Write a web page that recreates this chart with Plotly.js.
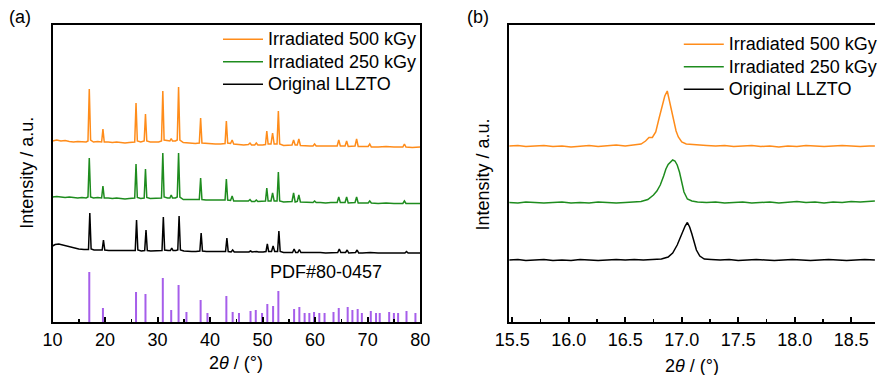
<!DOCTYPE html>
<html><head><meta charset="utf-8">
<script src="https://cdn.plot.ly/plotly-3.0.1.min.js"></script>
<style>html,body{margin:0;padding:0;background:#fff}#plot{width:883px;height:375px}</style>
</head><body><div id="plot"></div>
<script>
// ---------- Panel (a): full XRD patterns (stacked, arbitrary units) ----------
const orangeA_x = [10.0,10.8,11.6,12.4,13.2,14.0,14.8,15.6,16.4,16.75,17.0,17.25,17.8,18.6,19.35,19.6,19.85,20.6,21.4,22.2,23.0,23.8,24.6,25.65,25.9,26.15,26.8,27.45,27.7,27.95,28.6,29.4,30.2,30.75,31.0,31.25,31.9,32.35,32.6,32.85,33.4,33.75,34.0,34.25,34.9,35.6,36.4,37.2,37.95,38.2,38.45,39.2,40.0,41.0,42.0,42.85,43.1,43.35,43.9,44.2,44.5,45.4,46.4,47.3,47.6,47.9,48.5,48.8,49.1,50.0,50.55,50.8,51.05,51.6,51.9,52.2,52.75,53.0,53.25,54.0,55.0,55.6,55.9,56.2,56.6,56.9,57.2,58.0,59.0,59.6,59.9,60.2,61.0,62.0,63.0,64.2,64.5,64.8,65.7,66.0,66.3,67.0,67.6,67.9,68.2,69.0,70.1,70.4,70.7,72.0,73.5,75.0,76.7,77.0,77.3,78.5,80.0];
const orangeA_y = [181,182,181,181.5,180.5,180,180.5,180,180,181,233,182,180,180.5,180,193,180,180,179.5,180,179.5,179,179.5,180,219,181,180,181,208,181,180,180,180,181,231,182,181,181,183.5,181,181,182,235,182,179.5,179,179,178.5,179,204,179,178.5,178,178,178,178.5,201,179,178.5,182,178,177.5,177,177.5,179,177,177,179,177,177,177.5,191,178,178,189,178,178,211,178,176.5,176.5,177,182,177,177,183,176.5,176,176,176,178,176,176,175.5,176,176,182,176,176,181,175.5,175.5,176,183,175.5,175.5,175.5,178,175,175,175.5,175,175,178,175,174.5,175];

const greenA_x = [10.0,10.8,11.6,12.4,13.2,14.0,14.8,15.6,16.4,16.75,17.0,17.25,17.8,18.6,19.35,19.6,19.85,20.6,21.4,22.2,23.0,23.8,24.6,25.65,25.9,26.15,26.8,27.45,27.7,27.95,28.6,29.4,30.2,30.75,31.0,31.25,31.9,32.35,32.6,32.85,33.4,33.75,34.0,34.25,34.9,35.6,36.4,37.2,37.95,38.2,38.45,39.2,40.0,41.0,42.0,42.85,43.1,43.35,43.9,44.2,44.5,45.4,46.4,47.3,47.6,47.9,48.5,48.8,49.1,50.0,50.55,50.8,51.05,51.6,51.9,52.2,52.75,53.0,53.25,54.0,55.0,55.6,55.9,56.2,56.6,56.9,57.2,58.0,59.0,59.6,59.9,60.2,61.0,62.0,63.0,64.2,64.5,64.8,65.7,66.0,66.3,67.0,67.6,67.9,68.2,69.0,70.1,70.4,70.7,72.0,73.5,75.0,76.7,77.0,77.3,78.5,80.0];
const greenA_y = [125,125.5,125,124.5,125,124.5,124,124.5,124,125,164,125,124,124.5,124,136,124,124,123.5,124,123.5,123,123.5,124,158,124.5,123.5,124,153,124.5,123.5,123.5,123.5,124,169,125,124,124,127,124,124,125,169,125,122.5,122.5,122,122,122.5,144,122.5,122,122,121.5,121.5,122,143,122,121.5,126,121,121,120.5,121,122.5,120.5,120.5,122,120.5,120.5,121,134,121,121,129,121,121,150,121,120,120,120.5,129,120,120.5,127,120,120,119.5,119.5,121,119.5,119.5,119,119.5,119.5,125,119.5,119.5,125,119,119,119.5,125,119,119,119,121,119,118.5,119,118.5,118.5,121,118.5,118.5,118.5];

const blackA_x = [10.0,10.5,11.2,12.0,13.0,14.0,15.0,16.0,16.85,17.1,17.35,17.9,18.7,19.45,19.7,19.95,20.7,21.5,22.3,23.1,23.9,24.7,25.75,26.0,26.25,26.9,27.55,27.8,28.05,28.7,29.5,30.3,30.85,31.1,31.35,32.0,32.45,32.7,32.95,33.5,33.85,34.1,34.35,35.0,35.7,36.5,37.3,38.05,38.3,38.55,39.3,40.1,41.0,42.0,42.95,43.2,43.45,44.0,44.3,44.6,45.5,46.5,47.4,47.7,48.0,48.9,49.2,50.1,50.65,50.9,51.15,51.7,52.0,52.3,52.85,53.1,53.35,54.0,55.0,55.7,56.0,56.3,56.7,57.0,57.3,58.0,59.0,60.0,61.0,62.0,63.0,64.3,64.6,64.9,65.8,66.1,66.4,67.7,68.0,68.3,69.0,70.5,72.0,73.5,75.0,77.1,77.4,77.7,78.5,80.0];
const blackA_y = [76,77.5,78,77,75,74,73,72.5,72.5,109,73,72,72,72,82,72,71.5,71.5,71.5,71,71,71,71.5,102,72,71,71.5,92,71.5,71,71,71,71.5,105,72,71.5,71.5,74,71.5,71.5,72,106,72,71,70.5,70.5,70.5,71,89,71,70.5,70.5,70,70,70.5,84,70.5,70,72,70,70,70,70,71,70,70.5,70,70,70.5,78,70.5,70.5,76,70.5,70.5,91,70.5,69.5,69.5,69.5,73,69.5,69.5,72.5,69.5,69.5,69.5,70,69.5,69,69,69.5,73,69.5,69.5,72,69,69.5,72,69,69,69.5,69,69,69,69,70.5,69,69,69];

// Reference pattern PDF#80-0457 (stick positions and heights)
const pdfPos = [17.0,19.6,25.9,27.7,31.0,32.6,34.0,35.5,38.2,39.5,43.1,44.3,45.5,47.7,48.7,49.9,50.9,52.0,53.0,56.0,57.0,58.0,58.9,59.8,60.8,61.8,63.5,64.5,66.2,67.1,68.1,68.9,70.6,71.6,72.3,74.1,75.0,75.8,77.4,79.1];
const pdfInt = [50,14,30,28,44,12,37,10,22,9,26,10,9,11,12,9,18,16,31,13,15,9,9,10,9,9,10,14,15,12,13,9,11,9,9,10,9,9,11,9];

// ---------- Panel (b): zoom on the (211) peak ----------
const orangeB_x = [15.47,15.55,15.62,15.70,15.78,15.86,15.94,16.02,16.10,16.18,16.26,16.34,16.42,16.50,16.58,16.64,16.68,16.71,16.74,16.77,16.80,16.83,16.85,16.872,16.89,16.91,16.93,16.95,16.97,17.00,17.04,17.08,17.14,17.22,17.30,17.38,17.46,17.54,17.62,17.70,17.78,17.86,17.94,18.02,18.10,18.18,18.26,18.34,18.42,18.50,18.58,18.66,18.71];
const orangeB_y = [176,176.5,175.5,176,176.5,175.5,176,175,176,176.5,175.5,176,177,176,177,178,181,184.5,184.5,190,204,218,226,231,222,211,199,191,185,180,178,177.5,177,176.5,176,176.5,175.5,176,176.5,175.5,176,175,176,175.5,176.5,176,175.5,176,176.5,176,175.5,176,176];

const greenB_x = [15.47,15.55,15.62,15.70,15.78,15.86,15.94,16.02,16.10,16.18,16.26,16.34,16.42,16.50,16.58,16.64,16.70,16.75,16.78,16.81,16.84,16.86,16.88,16.90,16.92,16.94,16.96,16.98,17.00,17.02,17.05,17.09,17.14,17.22,17.30,17.38,17.46,17.54,17.62,17.70,17.78,17.86,17.94,18.02,18.10,18.18,18.26,18.34,18.42,18.50,18.58,18.66,18.71];
const greenB_y = [119.5,119,120,119.5,119,119.5,120,119,119.5,119,120,119.5,119,119.5,120,120.5,122.5,127,131,137,146,153,157.5,160,162,161,157,150,141,130,123,121,120,119.5,120,119,119.5,120,119,119.5,120,119,119.5,120.5,119.5,120,119,120,119.5,120.5,120,120.5,121];

const blackB_x = [15.47,15.55,15.62,15.70,15.78,15.86,15.94,16.02,16.10,16.18,16.26,16.34,16.42,16.50,16.58,16.66,16.74,16.82,16.88,16.92,16.96,17.00,17.03,17.05,17.07,17.09,17.11,17.13,17.16,17.20,17.26,17.34,17.42,17.50,17.58,17.66,17.74,17.82,17.90,17.98,18.06,18.14,18.22,18.30,18.38,18.46,18.54,18.62,18.71];
const blackB_y = [62,62.5,61.5,62,62.5,61.5,62,61.5,62.5,62,61.5,62,62.5,62,62.5,62,62.5,63,65,69,77,88,96,99.5,95,88,80,72,66,63,62.5,62,62.5,61.5,62,62.5,62,61.5,62,62.5,62,61.5,62,62.5,62,61.5,62,62.5,62];

const seriesNames = ['Irradiated 500 kGy','Irradiated 250 kGy','Original LLZTO'];
const pdfLabel = 'PDF#80-0457';

// ---------- styles ----------
const C_OR = '#FF8C1A', C_GR = '#1E8C1E', C_BK = '#000000', C_PDF = '#A65EEA';
const FONT = 'Liberation Sans, Arial, sans-serif';

const stickX = [], stickY = [];
pdfPos.forEach((p, i) => { stickX.push(p, p, null); stickY.push(0, pdfInt[i], null); });

// legend label: drawn at 18px while the legend row spacing follows a smaller base size
const lg = s => '<span style="font-size:18px">' + s + '</span>';

const lw = 1.5;
const traces = [
  {x: orangeA_x, y: orangeA_y, type:'scatter', mode:'lines', line:{color:C_OR, width:lw}, name:lg(seriesNames[0]), xaxis:'x', yaxis:'y', legend:'legend'},
  {x: greenA_x, y: greenA_y, type:'scatter', mode:'lines', line:{color:C_GR, width:lw}, name:lg(seriesNames[1]), xaxis:'x', yaxis:'y', legend:'legend'},
  {x: blackA_x, y: blackA_y, type:'scatter', mode:'lines', line:{color:C_BK, width:lw}, name:lg(seriesNames[2]), xaxis:'x', yaxis:'y', legend:'legend'},
  {x: stickX, y: stickY, type:'scatter', mode:'lines', line:{color:C_PDF, width:2}, showlegend:false, xaxis:'x', yaxis:'y', connectgaps:false},
  {x: orangeB_x, y: orangeB_y, type:'scatter', mode:'lines', line:{color:C_OR, width:lw}, name:lg(seriesNames[0]), xaxis:'x2', yaxis:'y2', legend:'legend2'},
  {x: greenB_x, y: greenB_y, type:'scatter', mode:'lines', line:{color:C_GR, width:lw}, name:lg(seriesNames[1]), xaxis:'x2', yaxis:'y2', legend:'legend2'},
  {x: blackB_x, y: blackB_y, type:'scatter', mode:'lines', line:{color:C_BK, width:lw}, name:lg(seriesNames[2]), xaxis:'x2', yaxis:'y2', legend:'legend2'}
];

const xCommon = {showline:true, linecolor:'#000', linewidth:2, mirror:true, showgrid:false, zeroline:false,
  ticks:'inside', ticklen:5, tickwidth:2, tickcolor:'#000', tickfont:{size:18, color:'#000', family:FONT}};
const yCommon = {showline:true, linecolor:'#000', linewidth:2, showgrid:false, zeroline:false,
  ticks:'', showticklabels:false, range:[0,297], fixedrange:true};

const W = 883;
const legendCommon = {font:{size:15, color:'#000', family:FONT}, bgcolor:'rgba(0,0,0,0)', borderwidth:0,
  xanchor:'left', yanchor:'top', traceorder:'normal', tracegroupgap:0, itemwidth:40};

const layout = {
  width:883, height:375, margin:{l:0, r:0, t:25, b:53}, paper_bgcolor:'#fff', plot_bgcolor:'#fff',
  font:{family:FONT, size:18, color:'#000'}, showlegend:true,
  xaxis: Object.assign({}, xCommon, {domain:[53/W, 424/W], range:[10,80], tick0:10, dtick:10, anchor:'y',
    minor:{ticks:'inside', ticklen:3, tickwidth:1.5, tickcolor:'#000', dtick:5, tick0:10}}),
  yaxis: Object.assign({}, yCommon, {domain:[0,1], anchor:'x', mirror:true}),
  xaxis2: Object.assign({}, xCommon, {domain:[514/W, 1], range:[15.474, 18.711], tick0:15.5, dtick:0.5, tickformat:'.1f', anchor:'y2',
    minor:{ticks:'inside', ticklen:3, tickwidth:1.5, tickcolor:'#000', dtick:0.25, tick0:15.5}}),
  yaxis2: Object.assign({}, yCommon, {domain:[0,1], anchor:'x2', mirror:false}),
  legend: Object.assign({}, legendCommon, {x:220/W, y:(322-23)/297}),
  legend2: Object.assign({}, legendCommon, {x:685/W, y:(322-28)/297}),
  annotations: [
    {text:'(a)', xref:'paper', yref:'paper', x:20/W, y:(322-17)/297, showarrow:false, xanchor:'center', yanchor:'middle', font:{size:18}},
    {text:'(b)', xref:'paper', yref:'paper', x:482/W, y:(322-17)/297, showarrow:false, xanchor:'center', yanchor:'middle', font:{size:18}},
    {text:'Intensity / a.u.', xref:'paper', yref:'paper', x:27/W, y:(322-173)/297, textangle:-90, showarrow:false, xanchor:'center', yanchor:'middle', font:{size:18}},
    {text:'Intensity / a.u.', xref:'paper', yref:'paper', x:487/W, y:(322-175)/297, textangle:-90, showarrow:false, xanchor:'center', yanchor:'middle', font:{size:18}},
    {text:'2<i>θ</i> / (°)', xref:'paper', yref:'paper', x:238/W, y:(322-363)/297, showarrow:false, xanchor:'center', yanchor:'middle', font:{size:18}},
    {text:'2<i>θ</i> / (°)', xref:'paper', yref:'paper', x:698/W, y:(322-366)/297, showarrow:false, xanchor:'center', yanchor:'middle', font:{size:18}},
    {text:pdfLabel, xref:'x', yref:'y', x:10 + (329-53)/5.3, y:322-272, xanchor:'center', yanchor:'middle', showarrow:false, font:{size:18}}
  ]
};

Plotly.newPlot('plot', traces, layout, {displayModeBar:false, staticPlot:true});
</script>
</body></html>
